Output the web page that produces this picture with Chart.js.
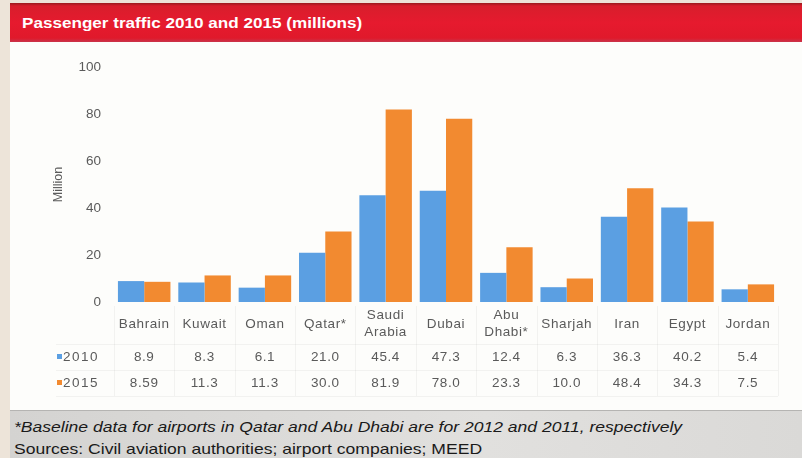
<!DOCTYPE html>
<html>
<head>
<meta charset="utf-8">
<script src="https://cdn.jsdelivr.net/npm/chart.js@4/dist/chart.umd.min.js"></script>
<style>
  html, body { margin: 0; padding: 0; background: #ede4d9; }
  #page { position: relative; width: 802px; height: 458px; overflow: hidden; }
  #header {
    position: absolute; left: 10px; top: 3px; width: 792px; height: 39px;
    background: linear-gradient(#9a1a1e 0px, #d81e2c 3px, #e61a2e 20px, #e0192b 35px, #c9344a 39px);
    color: #fff; font: bold 15px "Liberation Sans", Arial, sans-serif;
    box-sizing: border-box; padding: 11px 0 0 12px;
  }
  #header span { display: inline-block; transform: scaleX(1.14); transform-origin: left; }
  #panel { position: absolute; left: 10px; top: 42px; width: 792px; height: 368px; background: #fdfdfb; }
  #footer {
    position: absolute; left: 10px; top: 410px; width: 792px; height: 48px;
    background: linear-gradient(90deg, #d4d3d1, #e1e0de 60%, #dad9d7);
    border-top: 1px solid #b5b4b2; box-sizing: border-box;
    font: 14.5px "Liberation Sans", Arial, sans-serif; color: #1a1a1a;
    padding: 5px 0 0 4px; line-height: 22px;
  }
  #footer span { display: inline-block; transform: scaleX(1.21); transform-origin: left; white-space: nowrap; }
</style>
</head>
<body>
<div id="page">
  <div id="header"><span>Passenger traffic 2010 and 2015 (millions)</span></div>
  <div id="panel"><canvas id="chart" width="792" height="368"></canvas></div>
  <div id="footer">
    <span><i>*Baseline data for airports in Qatar and Abu Dhabi are for 2012 and 2011, respectively</i></span><br>
    <span>Sources: Civil aviation authorities; airport companies; MEED</span>
  </div>
</div>
<script>
const categories = [["Bahrain"], ["Kuwait"], ["Oman"], ["Qatar*"], ["Saudi", "Arabia"], ["Dubai"],
  ["Abu", "Dhabi*"], ["Sharjah"], ["Iran"], ["Egypt"], ["Jordan"]];
const values2010 = [8.9, 8.3, 6.1, 21.0, 45.4, 47.3, 12.4, 6.3, 36.3, 40.2, 5.4];
const values2015 = [8.59, 11.3, 11.3, 30.0, 81.9, 78.0, 23.3, 10.0, 48.4, 34.3, 7.5];
const labels2010 = ["8.9", "8.3", "6.1", "21.0", "45.4", "47.3", "12.4", "6.3", "36.3", "40.2", "5.4"];
const labels2015 = ["8.59", "11.3", "11.3", "30.0", "81.9", "78.0", "23.3", "10.0", "48.4", "34.3", "7.5"];
const seriesNames = ["2010", "2015"];
const blue = "#5b9fe2";
const orange = "#f28a30";

const textColor = "#5a5a5a";
const font = '13.5px "Liberation Sans", Arial, sans-serif';

// draws category labels and the data table under the bars, using the x scale
const tablePlugin = {
  id: "dataTable",
  afterDraw(chart) {
    const ctx = chart.ctx;
    const x = chart.scales.x;
    const area = chart.chartArea;
    const step = x.getPixelForValue(1) - x.getPixelForValue(0);
    const catY = area.bottom + 22;
    const row1 = area.bottom + 55;
    const row2 = area.bottom + 81;
    ctx.save();
    ctx.font = font;
    ctx.letterSpacing = "0.6px";
    ctx.fillStyle = textColor;
    ctx.textAlign = "center";
    ctx.textBaseline = "middle";
    categories.forEach((c, i) => {
      const cx = x.getPixelForValue(i);
      c.forEach((line, j) => {
        ctx.fillText(line, cx, catY + (j - (c.length - 1) / 2) * 17);
      });
      ctx.fillText(labels2010[i], cx, row1);
      ctx.fillText(labels2015[i], cx, row2);
    });
    // faint table lines
    ctx.strokeStyle = "rgba(0,0,0,0.045)";
    ctx.lineWidth = 1;
    const left = area.left - 58;
    const right = x.getPixelForValue(categories.length - 1) + step / 2;
    [row1 - 13, row2 - 13, row2 + 13].forEach(yy => {
      ctx.beginPath(); ctx.moveTo(left, yy + 0.5); ctx.lineTo(right, yy + 0.5); ctx.stroke();
    });
    for (let i = 0; i <= categories.length; i++) {
      const vx = Math.round(x.getPixelForValue(i) - step / 2) + 0.5;
      ctx.beginPath(); ctx.moveTo(vx, area.bottom + 4); ctx.lineTo(vx, row2 + 13); ctx.stroke();
    }
    // legend keys
    ctx.textAlign = "left";
    ctx.letterSpacing = "1.5px";
    [[seriesNames[0], blue, row1], [seriesNames[1], orange, row2]].forEach(([name, col, yy]) => {
      ctx.fillStyle = col;
      ctx.fillRect(left + 1, yy - 3, 5, 5);
      ctx.fillStyle = textColor;
      ctx.fillText(name, left + 7, yy);
    });
    ctx.restore();
  }
};

new Chart(document.getElementById("chart"), {
  type: "bar",
  data: {
    labels: categories,
    datasets: [
      { label: seriesNames[0], data: values2010, backgroundColor: blue },
      { label: seriesNames[1], data: values2015, backgroundColor: orange }
    ]
  },
  options: {
    responsive: false,
    animation: false,
    layout: { padding: { top: 25, bottom: 108, left: 41, right: 24 } },
    datasets: { bar: { categoryPercentage: 0.87, barPercentage: 1.0 } },
    plugins: { legend: { display: false }, tooltip: { enabled: false } },
    scales: {
      x: { display: false, grid: { display: false } },
      y: {
        min: 0, max: 100,
        border: { display: false },
        grid: { display: false },
        ticks: { stepSize: 20, color: textColor, font: { family: "Liberation Sans", size: 13.5 }, padding: 5 },
        title: { display: true, text: "Million", color: textColor, font: { family: "Liberation Sans", size: 12.5 }, padding: 0 },
        afterFit(scale) { scale.width = 63; }
      }
    }
  },
  plugins: [tablePlugin]
});
</script>
</body>
</html>
